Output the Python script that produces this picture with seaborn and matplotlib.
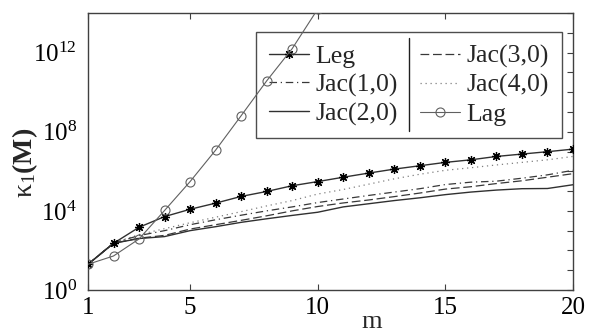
import numpy as np
import pandas as pd
import matplotlib
matplotlib.use("Agg")
import matplotlib.pyplot as plt
from matplotlib.lines import Line2D
import seaborn as sns

# ---- data (values read as log10 exponents) ----
m = list(range(1, 21))
leg_log10 = [1.30, 2.36, 3.17, 3.71, 4.08, 4.39, 4.73, 4.98, 5.27, 5.48,
             5.70, 5.91, 6.11, 6.28, 6.45, 6.58, 6.75, 6.87, 6.99, 7.12]
jac10_log10 = [1.30, 2.38, 2.75, 3.00, 3.30, 3.55, 3.78, 4.00, 4.20, 4.42,
               4.60, 4.78, 4.95, 5.12, 5.33, 5.45, 5.50, 5.65, 5.82, 6.05]
jac20_log10 = [1.30, 2.36, 2.60, 2.70, 3.00, 3.20, 3.42, 3.60, 3.77, 3.93,
               4.20, 4.36, 4.52, 4.66, 4.82, 4.95, 5.05, 5.12, 5.13, 5.32]
jac30_log10 = [1.30, 2.36, 2.62, 2.76, 3.08, 3.30, 3.52, 3.75, 4.00, 4.22,
               4.40, 4.55, 4.72, 4.90, 5.10, 5.22, 5.38, 5.52, 5.70, 5.88]
jac40_log10 = [1.30, 2.38, 2.80, 3.10, 3.40, 3.68, 3.96, 4.25, 4.52, 4.85,
               5.08, 5.35, 5.62, 5.85, 6.05, 6.18, 6.32, 6.45, 6.58, 6.75]
m_lag = list(range(1, 11))
lag_log10 = [1.30, 1.72, 2.58, 4.02, 5.48, 7.07, 8.81, 10.57, 12.20, 14.2]

series_names = ["Leg", "Jac(1,0)", "Jac(2,0)", "Jac(3,0)", "Jac(4,0)", "Lag"]
x_ticks = [1, 5, 10, 15, 20]
y_label_exps = [0, 4, 8, 12]

sns.set_theme(style="white")
plt.rcParams["font.family"] = ["Liberation Serif", "DejaVu Serif"]
plt.rcParams["mathtext.fontset"] = "custom"
plt.rcParams["mathtext.rm"] = "Liberation Serif"
plt.rcParams["mathtext.it"] = "Liberation Serif:italic"
plt.rcParams["mathtext.bf"] = "Liberation Serif:bold"

W, H = 591, 332
fig = plt.figure(figsize=(W/100, H/100), dpi=100)
ax = fig.add_axes([88/W, 42/H, 485/W, 277/H])

def df(xs, ys):
    return pd.DataFrame({"m": xs, "k": [10.0**v for v in ys]})

styles = {
    "Leg":      dict(color="#303030", lw=1.0, ls="-", marker=(8, 2, 0), ms=6.5,
                     mec="#000000", mew=0.9),
    "Jac(1,0)": dict(color="#383838", lw=0.9, ls=(0, (6, 3, 1, 3))),
    "Jac(2,0)": dict(color="#303030", lw=1.0, ls="-"),
    "Jac(3,0)": dict(color="#383838", lw=0.9, ls=(0, (7, 3))),
    "Jac(4,0)": dict(color="#808080", lw=0.9, ls=(0, (1, 3))),
    "Lag":      dict(color="#606060", lw=0.8, ls="-", marker="o", ms=6.5,
                     mfc="none", mec="#606060", mew=0.8),
}
data = {
    "Leg": df(m, leg_log10), "Jac(1,0)": df(m, jac10_log10),
    "Jac(2,0)": df(m, jac20_log10), "Jac(3,0)": df(m, jac30_log10),
    "Jac(4,0)": df(m, jac40_log10), "Lag": df(m_lag, lag_log10),
}

def line_kwargs(st):
    kw = dict(color=st["color"], linewidth=st["lw"], linestyle=st["ls"])
    if "marker" in st:
        kw.update(marker=st["marker"], markersize=st["ms"],
                  markeredgecolor=st["mec"], markeredgewidth=st["mew"])
        if "mfc" in st:
            kw["markerfacecolor"] = st["mfc"]
    return kw

for name in ["Jac(4,0)", "Jac(3,0)", "Jac(1,0)", "Jac(2,0)", "Leg", "Lag"]:
    sns.lineplot(data=data[name], x="m", y="k", ax=ax, zorder=3,
                 **line_kwargs(styles[name]))

handles = [Line2D([], [], **line_kwargs(styles[n])) for n in series_names]

ax.set_yscale("log")
ax.set_xlim(1, 20)
ax.set_ylim(1, 1e14)
ax.set_xticks(x_ticks)
ax.set_xticklabels([str(t) for t in x_ticks])
ax.set_yticks([10.0**e for e in range(0, 15)])
ax.set_yticklabels([r"$10^{%d}$" % e if e in y_label_exps else "" for e in range(0, 15)])
ax.minorticks_off()
ax.tick_params(axis="x", direction="in", top=True, bottom=True, length=4,
               width=0.8, color="#404040", labelsize=18, pad=5, labelcolor="black")
ax.tick_params(axis="y", direction="in", left=False, right=True, labelleft=True,
               length=4, width=0.8, color="#404040", labelsize=18, pad=8,
               labelcolor="black")
for sp in ax.spines.values():
    sp.set_color("#404040")
    sp.set_linewidth(1.0)

ax.set_xlabel("m", fontsize=19)
ax.xaxis.set_label_coords(0.585, -0.075)
ax.set_ylabel(r"$\mathrm{κ}_1\mathbf{(M)}$", fontsize=20)
ax.yaxis.set_label_coords(-0.10, 0.46)

fs = 18.5
leg = ax.legend(handles, series_names, ncol=2, loc="upper right",
                bbox_to_anchor=(0.977, 0.931), borderaxespad=0, fontsize=fs,
                frameon=True, fancybox=False, handlelength=1.55,
                handletextpad=0.27, labelspacing=0.21, columnspacing=0.85,
                borderpad=0.5)
leg.get_frame().set_edgecolor("#202020")
leg.get_frame().set_linewidth(1.0)
leg.set_zorder(2)

# vertical separator between the two legend columns
fig.canvas.draw()
r = fig.canvas.get_renderer()
texts = leg.get_texts()
col1_right = max(t.get_window_extent(r).x1 for t in texts[:3])
col2_left = min(t.get_window_extent(r).x0 for t in texts[3:])
fs_px = fs * 100 / 72
col2_handle_left = col2_left - (1.55 + 0.27) * fs_px
sx = (col1_right + col2_handle_left) / 2
fb = leg.get_frame().get_window_extent(r)
fig.add_artist(Line2D([sx / W, sx / W], [(fb.y0 + 7) / H, (fb.y1 - 6) / H],
                      transform=fig.transFigure, color="#202020", lw=1.0,
                      zorder=2.5))

fig.savefig("out.png", dpi=100)
